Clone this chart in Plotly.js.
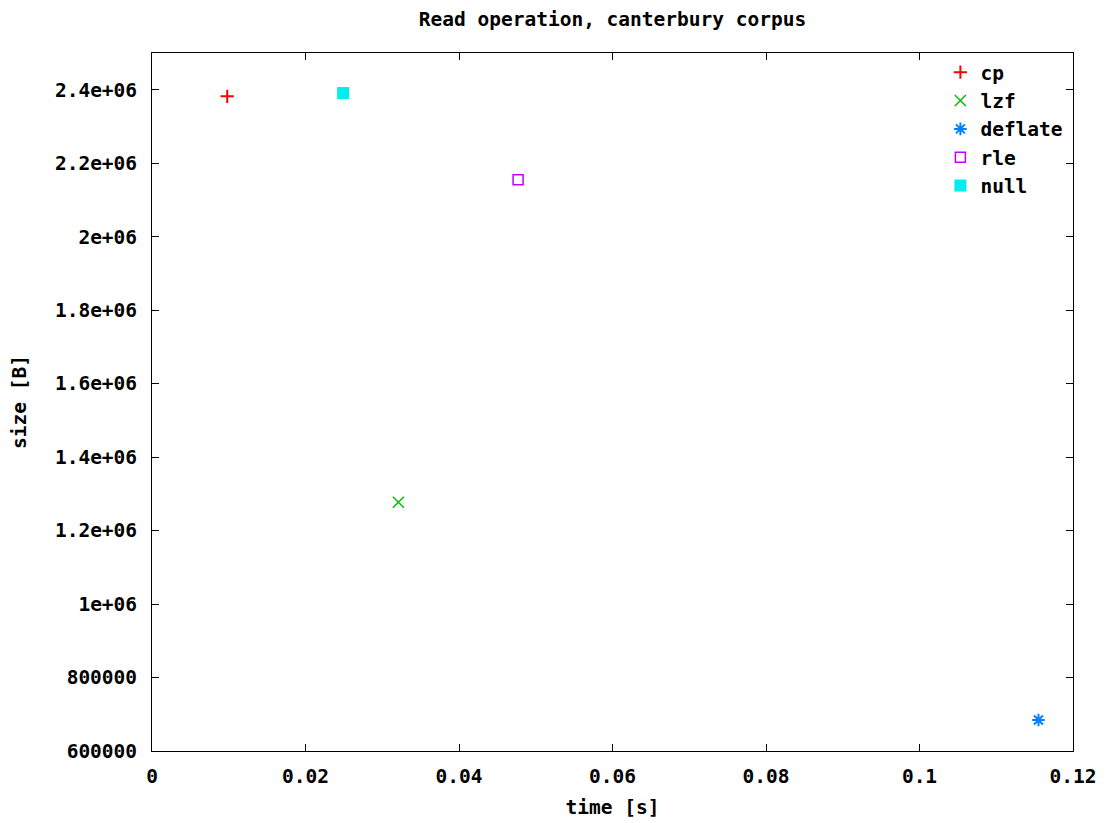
<!DOCTYPE html>
<html>
<head>
<meta charset="utf-8">
<script src="https://cdn.plot.ly/plotly-3.0.1.min.js"></script>
<style>html,body{margin:0;padding:0;background:#fff;}#chart{width:1113px;height:823px;}</style>
</head>
<body>
<div id="chart"></div>
<script>
// Data
const seriesNames = ['cp', 'lzf', 'deflate', 'rle', 'null'];
const timeSeconds = [0.0098, 0.0321, 0.1155, 0.0477, 0.0249];
const sizeBytes = [2382000, 1277000, 684500, 2155000, 2391000];
const yTickValues = [600000, 800000, 1000000, 1200000, 1400000, 1600000, 1800000, 2000000, 2200000, 2400000];
const yTickLabels = ['600000', '800000', '1e+06', '1.2e+06', '1.4e+06', '1.6e+06', '1.8e+06', '2e+06', '2.2e+06', '2.4e+06'];
const xTickValues = [0, 0.02, 0.04, 0.06, 0.08, 0.1, 0.12];
const xTickLabels = ['0', '0.02', '0.04', '0.06', '0.08', '0.1', '0.12'];

const styles = [
  {symbol: 'cross-thin-open', size: 9.5, color: '#ff0000', lw: 2},
  {symbol: 'x-thin-open', size: 11, color: '#00c000', lw: 1.5},
  {symbol: 'asterisk-open', size: 10.5, color: '#0080ff', lw: 2},
  {symbol: 'square-open', size: 10, color: '#c000ff', lw: 1.5},
  {symbol: 'square', size: 12, color: '#00eeee', lw: 0}
];

const font = {family: 'DejaVu Sans Mono, monospace', size: 19.5, color: '#000', weight: 'bold'};

const traces = seriesNames.map((n, i) => ({
  type: 'scatter',
  mode: 'markers',
  name: n,
  x: [timeSeconds[i]],
  y: [sizeBytes[i]],
  marker: {
    symbol: styles[i].symbol,
    size: styles[i].size,
    color: styles[i].color,
    line: {color: styles[i].color, width: styles[i].lw}
  }
}));

const axisCommon = {
  showgrid: false,
  zeroline: false,
  showline: true,
  linecolor: '#000',
  linewidth: 1,
  mirror: 'ticks',
  ticks: 'inside',
  ticklen: 7,
  tickwidth: 1,
  tickcolor: '#000',
  tickfont: font
};

const layout = {
  width: 1113,
  height: 823,
  margin: {l: 152, r: 40, t: 53, b: 72},
  paper_bgcolor: '#fff',
  plot_bgcolor: '#fff',
  font: font,
  title: {
    text: 'Read operation, canterbury corpus',
    font: font,
    xref: 'paper', x: 0.5, xanchor: 'center',
    yref: 'container', y: 1 - 19 / 823, yanchor: 'middle'
  },
  xaxis: Object.assign({}, axisCommon, {
    range: [0, 0.12],
    tickvals: xTickValues,
    ticktext: xTickLabels,
    ticklabelstandoff: 8,
    title: {text: 'time [s]', font: font, standoff: 12}
  }),
  yaxis: Object.assign({}, axisCommon, {
    range: [600000, 2500000],
    tickvals: yTickValues,
    ticktext: yTickLabels,
    ticklabelstandoff: 10,
    title: {text: 'size [B]', font: font, standoff: 23}
  }),
  showlegend: true,
  legend: {
    x: 0.995, xanchor: 'right',
    y: 1.0, yanchor: 'top',
    bgcolor: 'rgba(0,0,0,0)',
    borderwidth: 0,
    font: font,
    tracegroupgap: 0
  }
};

Plotly.newPlot('chart', traces, layout, {displayModeBar: false, staticPlot: true});
</script>
</body>
</html>
